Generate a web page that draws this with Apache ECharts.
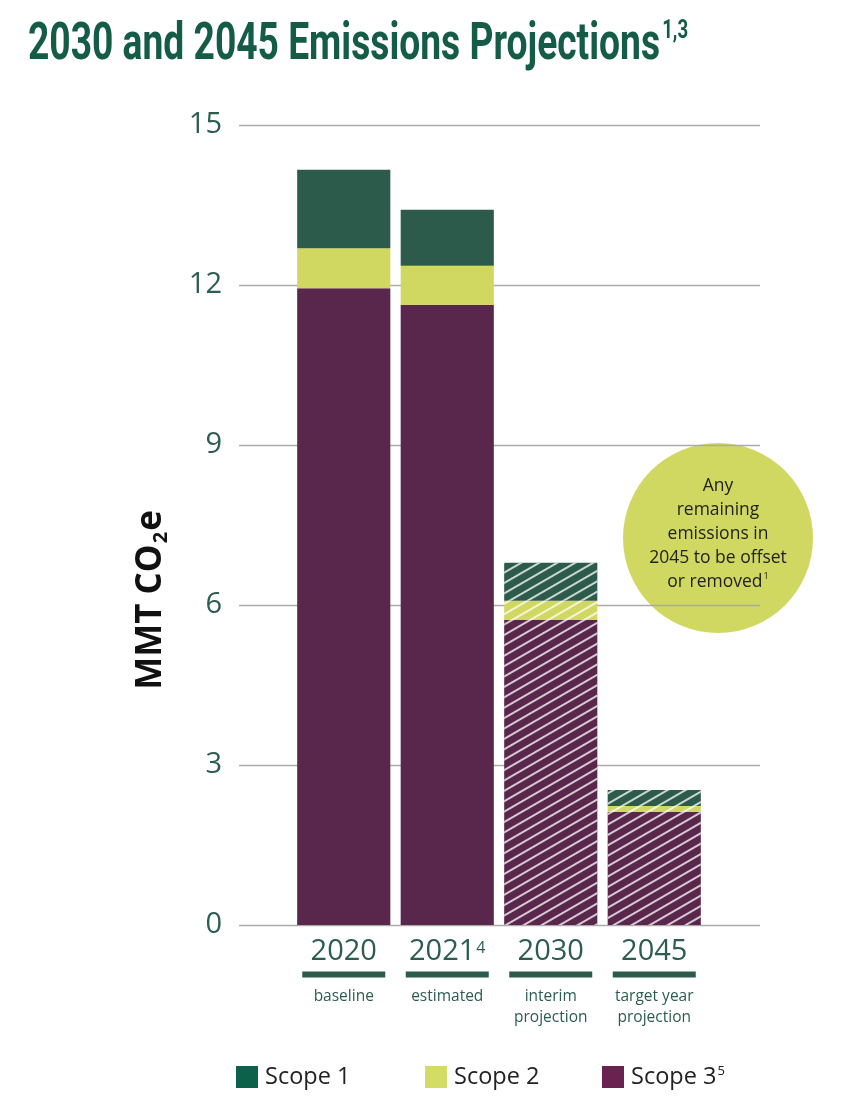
<!DOCTYPE html>
<html>
<head>
<meta charset="utf-8">
<script src="https://cdn.jsdelivr.net/npm/echarts@6/dist/echarts.min.js"></script>
<style>
  html, body { margin: 0; padding: 0; background: #fff; }
  #chart { width: 852px; height: 1111px; }
</style>
</head>
<body>
<div id="chart"></div>
<script>
(function() {
  var titleText = '2030 and 2045 Emissions Projections';
  var titleSup = '1,3';

  var years = ['2020', '2021', '2030', '2045'];
  var yearSup = ['', '4', '', ''];
  var subLabels = ['baseline', 'estimated', 'interim\nprojection', 'target year\nprojection'];
  var projected = [false, false, true, true];

  var scope1 = [1.47, 1.05, 0.71, 0.30];
  var scope2 = [0.75, 0.73, 0.36, 0.11];
  var scope3 = [11.94, 11.63, 5.72, 2.12];

  var yTicks = [0, 3, 6, 9, 12, 15];

  var green = '#2d5b4b';
  var lime = '#d1d862';
  var plum = '#5a274c';
  var textGreen = '#2d5e4c';
  var titleGreen = '#145c46';
  var font = 'Open Sans';

  // the title face is a tall condensed one; squeeze Roboto bold to the same width
  var titleSize = 52;
  var ctx = document.createElement('canvas').getContext('2d');
  ctx.font = 'bold ' + titleSize + 'px Roboto';
  var titleScale = 632 / ctx.measureText(titleText).width;

  var hatch = {
    symbol: 'rect',
    symbolSize: 1,
    color: 'rgba(255,255,255,0.75)',
    dashArrayX: [1, 0],
    dashArrayY: [1.2, 6.3],
    rotation: -Math.PI / 6
  };

  function withHatch(values) {
    return values.map(function(v, i) {
      if (!projected[i]) return v;
      return { value: v, itemStyle: { decal: hatch } };
    });
  }

  function legendItem(name, color, left, sup) {
    var item = {
      left: left, top: 1065, padding: 0, itemWidth: 22, itemHeight: 22, icon: 'rect',
      textStyle: { fontFamily: font, fontSize: 23.5, color: '#222', padding: [0, 0, 0, 2] },
      data: [{ name: name, itemStyle: { color: color } }]
    };
    if (sup) {
      item.formatter = function(n) { return '{a|' + n + '}{s|' + sup + '}'; };
      item.textStyle.rich = {
        a: { fontFamily: font, fontSize: 23.5, color: '#222' },
        s: { fontFamily: font, fontSize: 13, color: '#222', verticalAlign: 'top', padding: [0, 0, 0, 1] }
      };
    }
    return item;
  }

  var chart = echarts.init(document.getElementById('chart'), null, { renderer: 'canvas' });

  chart.setOption({
    animation: false,
    legend: [
      legendItem('Scope 1', '#0b614a', 236),
      legendItem('Scope 2', '#d3dc64', 425),
      legendItem('Scope 3', '#6a2350', 602, '5')
    ],
    grid: [
      { left: 239, right: 92, top: 125, bottom: 186 },
      { left: 292, right: 146, top: 125, bottom: 186 }
    ],
    xAxis: [
      { gridIndex: 0, type: 'value', show: false },
      {
        gridIndex: 1,
        type: 'category',
        data: years,
        axisLine: { show: false },
        axisTick: { show: false },
        axisLabel: {
          margin: 15,
          interval: 0,
          formatter: function(v, i) {
            var s = '{y|' + v + '}';
            if (yearSup[i]) s += '{s|' + yearSup[i] + '}';
            s += '\n{bar| }';
            subLabels[i].split('\n').forEach(function(line) { s += '\n{sub|' + line + '}'; });
            return s;
          },
          rich: {
            y: { fontFamily: font, fontSize: 29, color: textGreen, lineHeight: 23, align: 'center' },
            s: { fontFamily: font, fontSize: 16, color: textGreen, lineHeight: 14, verticalAlign: 'top', padding: [0, 0, 0, 1] },
            bar: { width: 83, height: 6, backgroundColor: green, lineHeight: 23, align: 'center' },
            sub: { fontFamily: font, fontSize: 15.5, color: textGreen, lineHeight: 21, align: 'center' }
          }
        }
      }
    ],
    yAxis: [
      {
        gridIndex: 0,
        type: 'value',
        min: 0,
        max: 15,
        interval: 3,
        name: '{a|MMT CO}{s|2}{a|e}',
        nameLocation: 'middle',
        nameRotate: 90,
        nameGap: 68,
        nameTextStyle: {
          padding: [0, 150, 0, 0],
          rich: {
            a: { fontFamily: font, fontWeight: 'bold', fontSize: 35, color: '#111', lineHeight: 40 },
            s: { fontFamily: font, fontWeight: 'bold', fontSize: 20, color: '#111', verticalAlign: 'bottom', lineHeight: 40, padding: [0, 1, 0, 1] }
          }
        },
        axisLine: { show: false },
        axisTick: { show: false },
        axisLabel: {
          margin: 17,
          fontFamily: font,
          fontSize: 29,
          color: textGreen,
          formatter: function(v) { return yTicks.indexOf(v) >= 0 ? String(v) : ''; }
        },
        splitLine: { lineStyle: { color: '#aaaaaa', width: 1.3 } }
      },
      { gridIndex: 1, type: 'value', min: 0, max: 15, interval: 3, show: false }
    ],
    series: [
      {
        name: 'Scope 3', type: 'bar', stack: 'total', xAxisIndex: 1, yAxisIndex: 1,
        barCategoryGap: '10%', itemStyle: { color: plum }, data: withHatch(scope3)
      },
      {
        name: 'Scope 2', type: 'bar', stack: 'total', xAxisIndex: 1, yAxisIndex: 1,
        barCategoryGap: '10%', itemStyle: { color: lime }, data: withHatch(scope2)
      },
      {
        name: 'Scope 1', type: 'bar', stack: 'total', xAxisIndex: 1, yAxisIndex: 1,
        barCategoryGap: '10%', itemStyle: { color: green }, data: withHatch(scope1)
      }
    ],
    graphic: [
      {
        type: 'text',
        x: 28,
        y: 74,
        scaleX: titleScale,
        style: {
          text: '{t|' + titleText + '}{s|' + titleSup + '}',
          verticalAlign: 'bottom',
          rich: {
            t: { fontFamily: 'Roboto', fontWeight: 'bold', fontSize: titleSize, fill: titleGreen, lineHeight: 56 },
            s: { fontFamily: 'Roboto', fontWeight: 'bold', fontSize: 26, fill: titleGreen, verticalAlign: 'top', lineHeight: 22, padding: [0, 0, 0, 3] }
          }
        }
      },
      {
        type: 'group',
        left: 623,
        top: 443,
        children: [
          { type: 'circle', shape: { cx: 95, cy: 95, r: 95 }, style: { fill: lime } },
          {
            type: 'text',
            x: 95,
            y: 91,
            style: {
              text: '{t|Any}\n{t|remaining}\n{t|emissions in}\n{t|2045 to be offset}\n{t|or removed}{s|1}',
              align: 'center',
              verticalAlign: 'middle',
              rich: {
                t: { fontFamily: font, fontSize: 17.5, fill: '#222', lineHeight: 24, align: 'center' },
                s: { fontFamily: font, fontSize: 9, fill: '#222', verticalAlign: 'top', lineHeight: 14, padding: [2, 0, 0, 1] }
              }
            }
          }
        ]
      }
    ]
  });

  window.addEventListener('resize', function() { chart.resize(); });
})();
</script>
</body>
</html>
